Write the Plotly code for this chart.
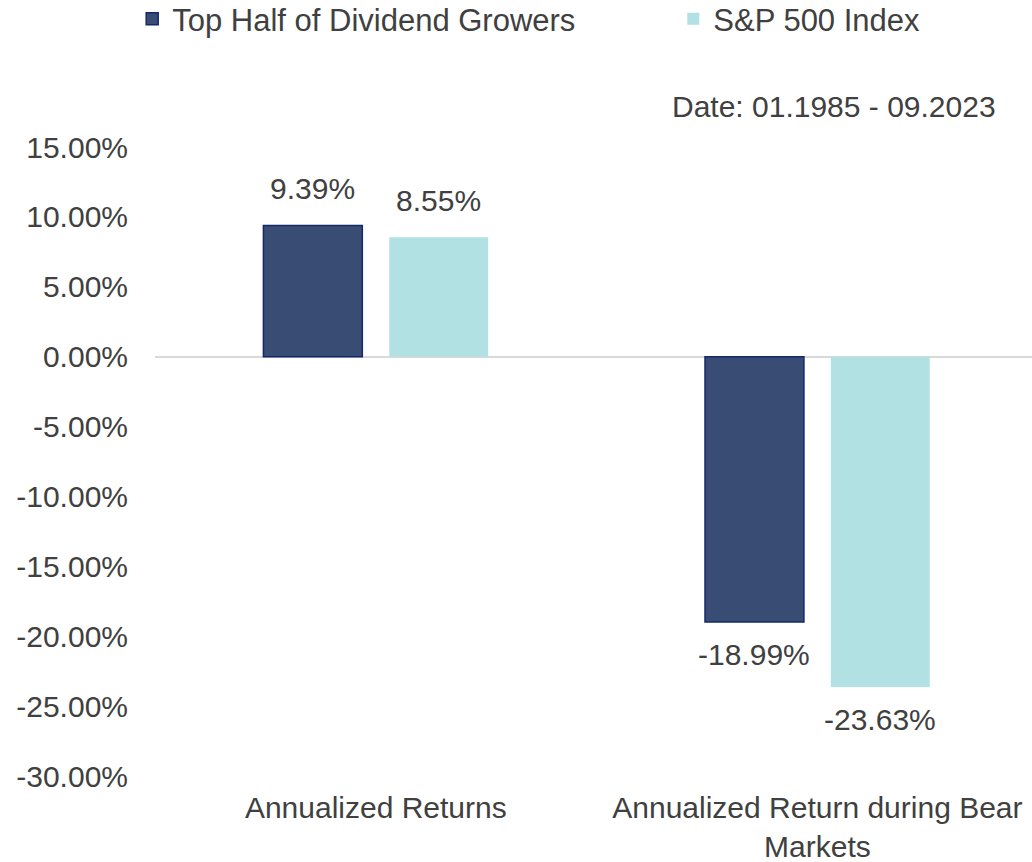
import plotly.graph_objects as go

categories = ["Annualized Returns", "Annualized Return during Bear<br>Markets"]
dividend_growers = [0.0939, -0.1899]
sp500 = [0.0855, -0.2363]
series_names = ["Top Half of Dividend Growers", "S&P 500 Index"]
date_note = "Date: 01.1985 - 09.2023"
y_ticks = [0.15, 0.10, 0.05, 0.0, -0.05, -0.10, -0.15, -0.20, -0.25, -0.30]

DARK = "#384C74"
DARK_EDGE = "#13296A"
LIGHT = "#B1E1E2"
TEXT = "#404040"
FONT = "Liberation Sans, Arial, sans-serif"
SIZE = 30

fig = go.Figure()

fig.add_trace(
    go.Bar(
        x=categories,
        y=dividend_growers,
        name=series_names[0],
        legend="legend",
        marker=dict(color=DARK, line=dict(color=DARK_EDGE, width=1.5)),
    )
)
fig.add_trace(
    go.Bar(
        x=categories,
        y=sp500,
        name=series_names[1],
        legend="legend2",
        marker=dict(color=LIGHT, line=dict(color=LIGHT, width=0)),
    )
)

# value labels, shifted onto each bar of the group
for values, shift in [(dividend_growers, -63), (sp500, 63)]:
    for cat, v in zip(categories, values):
        fig.add_annotation(
            x=cat,
            y=v,
            text=f"{v:.2%}",
            xshift=shift,
            yshift=18 if v >= 0 else -14,
            yanchor="bottom" if v >= 0 else "top",
            showarrow=False,
            font=dict(size=SIZE, color=TEXT),
        )

fig.add_annotation(
    text=date_note,
    xref="paper",
    yref="paper",
    x=0.961,
    y=1.065,
    xanchor="right",
    yanchor="middle",
    showarrow=False,
    font=dict(size=SIZE, color=TEXT),
)

fig.update_layout(
    width=1032,
    height=862,
    margin=dict(l=155, r=0, t=147, b=86, autoexpand=False),
    paper_bgcolor="white",
    plot_bgcolor="white",
    font=dict(family=FONT, size=SIZE, color=TEXT),
    barmode="group",
    bargap=0.43,
    bargroupgap=0.214,
    showlegend=True,
    legend=dict(
        orientation="h",
        x=-0.026,
        y=1.2035,
        xanchor="left",
        yanchor="middle",
        font=dict(size=31, color=TEXT),
    ),
    legend2=dict(
        orientation="h",
        x=0.591,
        y=1.2035,
        xanchor="left",
        yanchor="middle",
        font=dict(size=31, color=TEXT),
    ),
    xaxis=dict(
        range=[-0.5, 1.486],
        showline=False,
        showgrid=False,
        ticks="",
        ticklabelstandoff=11,
        tickfont=dict(size=30, color=TEXT),
    ),
    yaxis=dict(
        range=[-0.30, 0.15],
        tickvals=y_ticks,
        ticktext=[f"{t * 100:.2f}%" for t in y_ticks],
        showgrid=False,
        showline=False,
        zeroline=True,
        zerolinecolor="#D9D9D9",
        zerolinewidth=2,
        ticks="",
        ticklabelstandoff=26,
        tickfont=dict(size=SIZE, color=TEXT),
    ),
)

fig.write_html(
    "out.html",
    config={"displayModeBar": False},
    post_script="document.body.style.margin = '0';",
)
